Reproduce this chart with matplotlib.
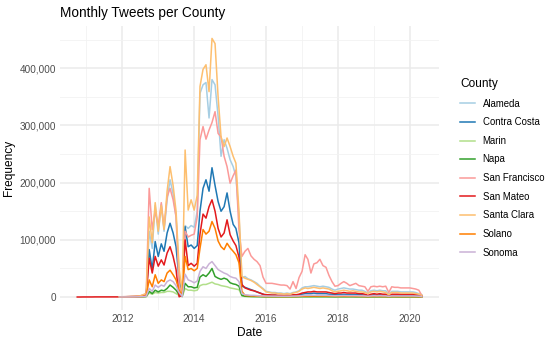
import matplotlib
matplotlib.use("Agg")
import matplotlib.pyplot as plt
import matplotlib.dates as mdates
from matplotlib.ticker import FuncFormatter, MultipleLocator
import numpy as np
import pandas as pd

plt.rcParams['font.family'] = ['Liberation Sans', 'DejaVu Sans']

# monthly tweet counts in thousands, Dec 2011 .. May 2020
alameda = [0.3,
    0.5, 0.6, 0.7, 0.9, 1.0, 1.3, 1.7, 3.5, 5, 115, 85, 160,
    110, 162, 115, 170, 205, 180, 140, 42, 7, 125, 120, 125,
    122, 150, 356, 371, 375, 313, 380, 371, 316, 246, 275, 260,
    240, 228, 211, 141, 33, 36, 32, 30, 27, 24, 19, 15,
    10, 9, 8, 8, 7, 7, 6, 7, 6, 8, 9, 11,
    16, 18, 18, 19, 20, 19, 18, 19, 18, 17, 14, 12,
    14, 15, 16, 15, 14, 14, 13, 12, 12, 10, 7, 11,
    12, 11, 12, 11, 11, 5, 10, 10, 10, 9, 9, 9,
    9, 9, 8, 6, 4]
contra_costa = [0.2,
    0.3, 0.4, 0.5, 0.6, 0.7, 0.9, 1.1, 2, 3, 83, 48, 97,
    71, 93, 80, 112, 129, 112, 88, 30, 7, 123, 88, 91,
    85, 90, 150, 190, 205, 185, 226, 195, 167, 150, 158, 182,
    150, 127, 120, 95, 19, 17, 15, 13, 11, 9, 7, 5,
    3, 3, 3, 3, 2.5, 2.5, 2.5, 2.5, 2.5, 3, 3, 4,
    5, 6, 6, 6, 7, 6, 6, 6, 6, 5, 5, 4,
    4, 4, 5, 4, 4, 4, 4, 4, 4, 3, 2, 3,
    4, 3, 4, 3, 3, 2, 3, 3, 3, 3, 3, 3,
    3, 3, 3, 2, 1]
marin = [0.05,
    0.1, 0.1, 0.1, 0.1, 0.2, 0.2, 0.2, 0.4, 0.8, 7, 5, 8,
    7, 8, 8, 10, 10, 9, 6, 3, 1, 15, 12, 12,
    11, 12, 20, 22, 22, 24, 26, 23, 22, 20, 19, 18,
    16, 15, 14, 13, 2, 1, 0.9, 0.8, 0.7, 0.7, 0.6, 0.5,
    0.4, 0.4, 0.4, 0.4, 0.4, 0.4, 0.4, 0.4, 0.4, 0.4, 0.4, 0.5,
    0.6, 0.6, 0.6, 0.6, 0.6, 0.6, 0.6, 0.6, 0.6, 0.5, 0.5, 0.5,
    0.5, 0.5, 0.5, 0.5, 0.5, 0.5, 0.5, 0.5, 0.5, 0.4, 0.3, 0.4,
    0.4, 0.4, 0.4, 0.4, 0.4, 0.3, 0.4, 0.4, 0.4, 0.4, 0.4, 0.4,
    0.4, 0.4, 0.3, 0.3, 0.2]
napa = [0.05,
    0.1, 0.1, 0.1, 0.2, 0.2, 0.2, 0.3, 0.5, 1, 10, 6, 12,
    9, 12, 11, 15, 21, 17, 12, 4, 1, 24, 18, 18,
    16, 17, 35, 39, 36, 42, 50, 36, 33, 31, 33, 31,
    25, 23, 22, 19, 3, 1.5, 1.2, 1, 0.9, 0.8, 0.7, 0.6,
    0.5, 0.5, 0.5, 0.5, 0.5, 0.5, 0.5, 0.5, 0.5, 0.5, 0.5, 0.6,
    0.7, 0.7, 0.7, 0.7, 0.8, 0.7, 0.7, 0.7, 0.7, 0.6, 0.6, 0.5,
    0.6, 0.6, 0.6, 0.6, 0.6, 0.6, 0.5, 0.5, 0.5, 0.5, 0.3, 0.5,
    0.5, 0.5, 0.5, 0.5, 0.5, 0.3, 0.5, 0.5, 0.4, 0.4, 0.4, 0.4,
    0.4, 0.4, 0.4, 0.3, 0.2]
san_francisco = [0.4,
    0.6, 0.7, 0.9, 1.1, 1.3, 1.6, 2, 4, 6, 190, 118, 150,
    125, 165, 120, 175, 190, 170, 140, 20, 5, 115, 105, 108,
    110, 140, 275, 298, 276, 292, 305, 324, 286, 280, 246, 228,
    199, 212, 222, 118, 71, 80, 85, 72, 66, 62, 55, 35,
    24, 24, 24, 23, 22, 21, 21, 20, 14, 27, 15, 34,
    45, 74, 66, 42, 58, 60, 66, 55, 52, 38, 27, 19,
    20, 24, 27, 24, 20, 22, 24, 20, 19, 18, 10, 18,
    19, 18, 19, 18, 19, 8, 18, 17, 17, 16, 16, 16,
    16, 15, 14, 12, 3]
# San Mateo also has Oct 2010 .. Nov 2011
san_mateo_early = [0.1, 0.1, 0.2, 0.2, 0.2, 0.2, 0.3, 0.3, 0.3, 0.3, 0.3, 0.3, 0.3, 0.3]
san_mateo = [0.3,
    0.4, 0.5, 0.6, 0.7, 0.8, 1.0, 1.2, 2, 3, 68, 42, 71,
    54, 65, 56, 77, 88, 71, 48, 0.5, 3, 100, 55, 59,
    54, 59, 110, 145, 138, 158, 170, 150, 120, 105, 112, 135,
    109, 98, 90, 70, 22, 16, 14, 12, 11, 9, 7, 5,
    4, 4, 3.5, 3.5, 3, 3, 3, 3, 3, 4, 4, 5,
    7, 8, 9, 9, 10, 9, 9, 9, 9, 8, 7, 6,
    7, 7, 8, 7, 7, 7, 7, 6, 6, 5, 3, 5,
    6, 5, 6, 5, 5, 3, 5, 5, 5, 5, 5, 5,
    5, 5, 4, 4, 2]
santa_clara = [0.3,
    0.5, 0.6, 0.8, 1.0, 1.2, 1.5, 2.0, 4.0, 6, 140, 95, 165,
    115, 160, 118, 185, 228, 195, 150, 50, 7, 257, 152, 170,
    152, 178, 368, 398, 406, 359, 452, 443, 350, 280, 263, 278,
    263, 246, 234, 150, 36, 33, 31, 29, 26, 22, 18, 14,
    9, 8, 7, 7, 6, 6, 5, 6, 5, 7, 8, 10,
    14, 16, 15, 16, 17, 16, 15, 16, 15, 14, 11, 9,
    10, 11, 12, 11, 10, 11, 10, 9, 9, 8, 6, 9,
    10, 9, 10, 9, 8, 4, 8, 8, 8, 7, 7, 7,
    7, 7, 6, 5, 3]
solano = [0.1,
    0.2, 0.2, 0.3, 0.3, 0.4, 0.5, 0.6, 1, 2, 30, 18, 39,
    24, 30, 27, 42, 47, 39, 30, 12, 3, 71, 48, 50,
    46, 50, 85, 118, 110, 115, 132, 120, 98, 88, 83, 94,
    86, 80, 74, 60, 10, 3, 2.5, 2, 2, 1.5, 1.5, 1.2,
    1, 1, 1, 1, 0.9, 0.9, 0.9, 0.9, 0.9, 1, 1, 1.2,
    1.5, 1.6, 1.7, 1.7, 1.8, 1.7, 1.7, 1.7, 1.6, 1.5, 1.4, 1.2,
    1.3, 1.3, 1.4, 1.3, 1.3, 1.3, 1.2, 1.2, 1.1, 1.0, 0.7, 1.0,
    1.1, 1.0, 1.1, 1.0, 1.0, 0.6, 1.0, 1.0, 0.9, 0.9, 0.9, 0.9,
    0.9, 0.9, 0.8, 0.7, 0.3]
sonoma = [0.1,
    0.2, 0.2, 0.2, 0.3, 0.3, 0.4, 0.5, 0.8, 1.5, 15, 10, 21,
    17, 21, 19, 27, 30, 27, 20, 8, 1, 40, 30, 28,
    25, 28, 45, 53, 50, 58, 62, 55, 48, 45, 42, 40,
    36, 34, 33, 27, 6, 4, 3.5, 3, 3, 2.5, 2, 2,
    1.8, 1.7, 1.6, 1.6, 1.5, 1.5, 1.5, 1.5, 1.5, 1.7, 1.8, 2,
    2.6, 3, 3, 3.1, 3.2, 3.1, 3, 3, 3, 2.8, 2.5, 2.2,
    2.4, 2.5, 2.7, 2.5, 2.4, 2.5, 2.4, 2.2, 2.2, 2, 1.5, 2,
    2.3, 2.1, 2.3, 2.1, 2.1, 1.2, 2, 2, 2, 1.9, 1.9, 1.9,
    1.9, 1.9, 1.7, 1.5, 0.8]

counties = ["Alameda", "Contra Costa", "Marin", "Napa", "San Francisco",
            "San Mateo", "Santa Clara", "Solano", "Sonoma"]
series = [alameda, contra_costa, marin, napa, san_francisco,
          san_mateo, santa_clara, solano, sonoma]
colors = ["#A6CEE3", "#1F78B4", "#B2DF8A", "#33A02C", "#FB9A99",
          "#E31A1C", "#FDBF6F", "#FF7F00", "#CAB2D6"]

months = pd.date_range("2011-12-01", periods=len(alameda), freq="MS")
early_months = pd.date_range("2010-10-01", periods=len(san_mateo_early), freq="MS")

fig = plt.figure(figsize=(5.5, 3.42), dpi=100)
ax = fig.add_axes([60/550, 1 - 310/342, 379/550, 284.5/342])

for name, vals, col in zip(counties, series, colors):
    x = months
    y = np.array(vals) * 1000
    if name == "San Mateo":
        x = early_months.append(months)
        y = np.concatenate([np.array(san_mateo_early) * 1000, y])
    ax.plot(x, y, color=col, lw=1.1, label=name, solid_joinstyle='round')

ax.margins(x=0.05, y=0.05)
ax.set_ylim(bottom=-0.05 * 452000)

# ggplot-like minimal theme
for s in ax.spines.values():
    s.set_visible(False)
ax.xaxis.set_major_locator(mdates.YearLocator(2, month=1, day=1))
ax.xaxis.set_major_formatter(mdates.DateFormatter("%Y"))
ax.xaxis.set_minor_locator(mdates.YearLocator(1))
ax.yaxis.set_major_locator(MultipleLocator(100000))
ax.yaxis.set_minor_locator(MultipleLocator(50000))
ax.yaxis.set_major_formatter(FuncFormatter(lambda v, p: f"{int(v):,}"))
ax.grid(which='major', color='#EBEBEB', lw=1.1)
ax.grid(which='minor', color='#F2F2F2', lw=0.6)
ax.set_axisbelow(True)
ax.tick_params(which='both', length=0, labelsize=7.2, labelcolor='#4D4D4D', pad=3)

ax.set_xlabel("Date", fontsize=8.6, labelpad=2)
ax.set_ylabel("Frequency", fontsize=8.6, labelpad=3)
ax.set_title("Monthly Tweets per County", loc='left', fontsize=9.8, pad=6)

leg = ax.legend(loc='upper left', bbox_to_anchor=(460/550, 1 - 78/342),
                bbox_transform=fig.transFigure, frameon=False,
                title="County", title_fontsize=8.6, fontsize=6.9,
                handlelength=1.6, handletextpad=0.75, labelspacing=0.9,
                borderpad=0, borderaxespad=0, alignment='left')

fig.savefig("out.png", dpi=100)
